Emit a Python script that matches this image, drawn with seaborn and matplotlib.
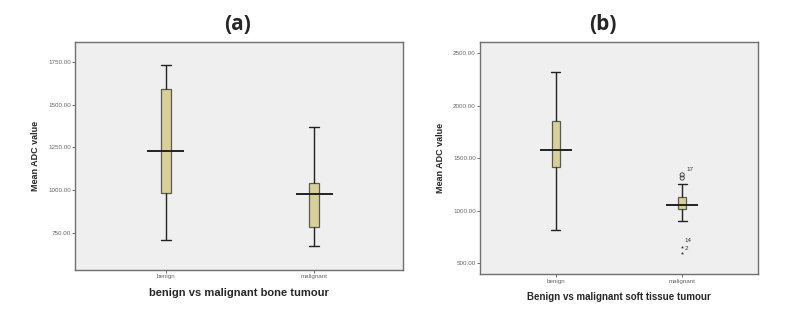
import numpy as np
import pandas as pd
import matplotlib
matplotlib.use("Agg")
import matplotlib.pyplot as plt
import seaborn as sns

# five-number summaries: low whisker, Q1, median, Q3, high whisker
groups = ["benign", "malignant"]
bone_benign = [711, 987, 1230, 1589, 1731]
bone_malignant = [678, 789, 981, 1042, 1368]
soft_benign = [815, 1419, 1578, 1854, 2325]
soft_malignant = [901, 1012, 1053, 1127, 1251]

# outliers in the soft tissue panel (SPSS: circle = outlier, star = extreme)
soft_out_vals = [1310, 1340]
soft_out_ids = ["", "17"]
soft_ext_vals = [656, 599]
soft_ext_ids = ["14", "2"]

bone_ticks = [750, 1000, 1250, 1500, 1750]
soft_ticks = [500, 1000, 1500, 2000, 2500]

box_fill = "#d8cf9b"
edge = "#5a5a4a"

sns.set_style("white")
plt.rcParams["font.family"] = ["Liberation Sans", "DejaVu Sans"]

fig = plt.figure(figsize=(8, 3.27), dpi=100)
ax_a = fig.add_axes([0.094, 0.174, 0.41, 0.698])
ax_b = fig.add_axes([0.600, 0.161, 0.3475, 0.711])


def long_df(first, second):
    return pd.DataFrame({
        "group": [groups[0]] * len(first) + [groups[1]] * len(second),
        "value": first + second,
    })


def draw(ax, df, ylim, ticks, xlim, xlabel, xsize):
    sns.boxplot(data=df, x="group", y="value", order=groups, ax=ax,
                width=0.066, whis=(0, 100), showfliers=False,
                color=box_fill, saturation=1, linewidth=0.9, linecolor=edge,
                capwidths=0.07,
                medianprops={"visible": False},
                whiskerprops={"color": "#222222", "linewidth": 1.0},
                capprops={"color": "#222222", "linewidth": 1.0})
    # SPSS-style median bar wider than the box
    med = df.groupby("group")["value"].median().reindex(groups).values
    xs = np.arange(len(groups))
    ax.hlines(med, xs - 0.125, xs + 0.125, color="#222222", linewidth=1.4, zorder=5)
    ax.set_xlim(*xlim)
    ax.set_ylim(*ylim)
    ax.set_yticks(ticks)
    ax.set_yticklabels([f"{t:.2f}" for t in ticks])
    ax.set_facecolor("#efefef")
    for s in ax.spines.values():
        s.set_color("#707070")
        s.set_linewidth(1.0)
    ax.tick_params(axis="both", labelsize=4.5, labelcolor="#666666",
                   length=2, width=0.6, color="#555555", direction="out",
                   left=True, bottom=True, pad=1)
    ax.set_ylabel("Mean ADC value", fontsize=6.5, fontweight="bold", labelpad=6)
    ax.set_xlabel(xlabel, fontsize=xsize, fontweight="bold", labelpad=6)


draw(ax_a, long_df(bone_benign, bone_malignant), (536, 1865), bone_ticks,
     (-0.61, 1.60), "benign vs malignant bone tumour", 8)
draw(ax_b, long_df(soft_benign, soft_malignant), (392, 2608), soft_ticks,
     (-0.60, 1.60), "Benign vs malignant soft tissue tumour", 7)

# outliers and extremes for the malignant soft tissue group
out_df = pd.DataFrame({"group": [groups[1]] * len(soft_out_vals), "value": soft_out_vals})
ext_df = pd.DataFrame({"group": [groups[1]] * len(soft_ext_vals), "value": soft_ext_vals})
sns.scatterplot(data=out_df, x="group", y="value", ax=ax_b, marker="o", s=9,
                facecolor="none", edgecolor="#333333", linewidth=0.6, zorder=6)
sns.scatterplot(data=ext_df, x="group", y="value", ax=ax_b, marker="*", s=6,
                color="#333333", linewidth=0, zorder=6)
for v, t in zip(soft_out_vals, soft_out_ids):
    if t:
        ax_b.annotate(t, (1, v), xytext=(3, 3), textcoords="offset points",
                      fontsize=4.5, color="#333333")
ax_b.annotate(soft_ext_ids[0], (1, soft_ext_vals[0]), xytext=(2, 3),
              textcoords="offset points", fontsize=4.5, color="#333333")
ax_b.annotate(soft_ext_ids[1], (1, soft_ext_vals[0]), xytext=(2, -2.5),
              textcoords="offset points", fontsize=4.5, color="#333333")
ax_b.set_xlim(-0.60, 1.60)
ax_b.set_xlabel("Benign vs malignant soft tissue tumour", fontsize=7,
                fontweight="bold", labelpad=6)

fig.text(0.297, 0.925, "(a)", ha="center", va="center", fontsize=15,
         fontweight="bold", family=["Open Sans", "DejaVu Sans"])
fig.text(0.754, 0.925, "(b)", ha="center", va="center", fontsize=15,
         fontweight="bold", family=["Open Sans", "DejaVu Sans"])

fig.savefig("out.png", dpi=100, facecolor="white")
